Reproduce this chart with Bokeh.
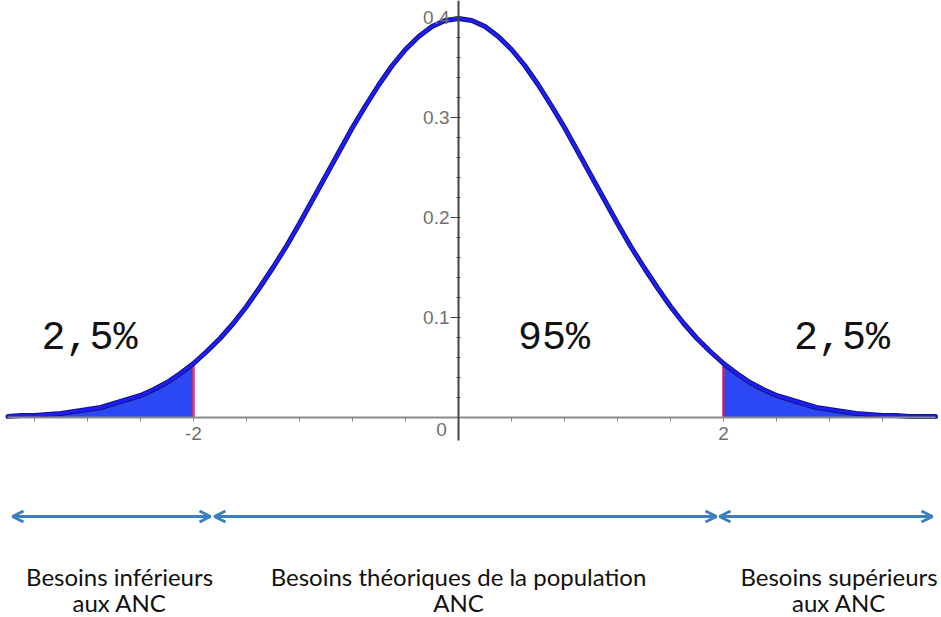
from bokeh.plotting import figure
from bokeh.models import FixedTicker, Arrow, OpenHead
from bokeh.core.properties import value
from bokeh.embed import file_html
from bokeh.resources import INLINE

# ---- data ----
x_vals = [round(-3.4 + 0.1 * i, 1) for i in range(71)]
density = [0.001, 0.002, 0.002, 0.003, 0.004, 0.006, 0.008, 0.010, 0.014, 0.018,
           0.022, 0.028, 0.035, 0.044, 0.054, 0.066, 0.079, 0.094, 0.111, 0.130,
           0.150, 0.171, 0.194, 0.218, 0.242, 0.266, 0.290, 0.312, 0.333, 0.352,
           0.368, 0.381, 0.391, 0.397,
           0.399,
           0.397, 0.391, 0.381, 0.368, 0.352, 0.333, 0.312, 0.290, 0.266, 0.242,
           0.218, 0.194, 0.171, 0.150, 0.130, 0.111, 0.094, 0.079, 0.066, 0.054,
           0.044, 0.035, 0.028, 0.022, 0.018, 0.014, 0.010, 0.008, 0.006, 0.004,
           0.003, 0.002, 0.002, 0.001, 0.001, 0.001]
cut_low, cut_high = -2, 2
x_ticks = [-2, 2]
x_tick_labels = {-2: "-2", 2: "2"}
x_minor = [-3.2, -2.8, -2.4, -1.6, -1.2, -0.8, -0.4, 0.4, 0.8, 1.2, 1.6, 2.4, 2.8, 3.2]
y_ticks = [0.1, 0.2, 0.3, 0.4]
y_minor = [round(0.02 * i, 2) for i in range(1, 21)]
origin_label = ["0"]
pct_labels = ["2,5%", "95%", "2,5%"]
group_line1 = ["Besoins inférieurs", "Besoins théoriques de la population", "Besoins supérieurs"]
group_line2 = ["aux ANC", "ANC", "aux ANC"]

# ---- layout positions ----
pct_x = [-2.785, 0.721, 2.894]
pct_y = [0.079, 0.079, 0.079]
arrow_spans = [(-3.366, -1.872), (-1.842, 1.947), (1.970, 3.577)]
arrow_y = -0.099
group_x = [-2.558, 0.0, 2.872]
line1_y = [-0.159, -0.159, -0.159]
line2_y = [-0.185, -0.185, -0.185]

p = figure(width=941, height=617, x_range=(-3.4566, 3.6453), y_range=(-0.200, 0.417),
           output_backend="svg", toolbar_location=None, min_border=0,
           outline_line_color=None)
p.grid.visible = False

# axes through the origin
p.xaxis.fixed_location = 0
p.yaxis.fixed_location = 0
p.xaxis.ticker = FixedTicker(ticks=x_ticks, minor_ticks=x_minor)
p.xaxis.major_label_overrides = x_tick_labels
p.yaxis.ticker = FixedTicker(ticks=y_ticks, minor_ticks=y_minor)
p.xaxis.bounds = (-3.4, 3.6)
p.yaxis.bounds = (-0.023, 0.417)
for ax in (p.xaxis, p.yaxis):
    ax.major_label_text_font = "Liberation Sans"
    ax.major_label_text_font_size = "19px"
    ax.major_label_text_color = "#707070"
p.xaxis.axis_line_color = "#8a8a8a"
p.xaxis.axis_line_width = 2
p.xaxis.major_tick_line_color = "#8a8a8a"
p.xaxis.minor_tick_line_color = "#8a8a8a"
p.xaxis.major_tick_out = 4
p.xaxis.major_tick_in = 0
p.xaxis.minor_tick_out = 4
p.xaxis.minor_tick_in = 0
p.xaxis.major_label_standoff = 5
p.yaxis.axis_line_color = "#444444"
p.yaxis.axis_line_width = 2
p.yaxis.major_tick_line_color = "#444444"
p.yaxis.minor_tick_line_color = "#444444"
p.yaxis.major_tick_out = 8
p.yaxis.major_tick_in = 0
p.yaxis.minor_tick_out = 2
p.yaxis.minor_tick_in = 2
p.yaxis.major_label_standoff = 1

# origin label
p.text(x=[0], y=[0], text=origin_label, x_offset=-17, y_offset=12, text_align="center",
       text_baseline="middle", text_font=value("Liberation Sans"),
       text_font_size="19px", text_color="#707070")

# shaded tails
lo = [(x, y) for x, y in zip(x_vals, density) if x <= cut_low]
hi = [(x, y) for x, y in zip(x_vals, density) if x >= cut_high]
for part in (lo, hi):
    p.varea(x=[a for a, _ in part], y1=[0] * len(part), y2=[b for _, b in part],
            fill_color="#2b48f4")

# cut lines
d_lo = density[x_vals.index(cut_low)]
d_hi = density[x_vals.index(cut_high)]
p.segment(x0=[cut_low], y0=[0], x1=[cut_low], y1=[d_lo], line_color="#e8336b", line_width=2.5)
p.segment(x0=[cut_high], y0=[0], x1=[cut_high], y1=[d_hi], line_color="#b02a7a", line_width=2.5)

# curve
p.line(x_vals, density, line_color="#14146e", line_width=5, line_cap="round")
p.line(x_vals, density, line_color="#1c1cff", line_width=3, line_cap="round")

# percentages
p.text(x=pct_x, y=pct_y, text=pct_labels, text_align="center", text_baseline="middle",
       text_font=value("Liberation Mono"), text_font_size="40px", text_color="#111111")

# arrows
for (a, b) in arrow_spans:
    p.add_layout(Arrow(x_start=a, y_start=arrow_y, x_end=b, y_end=arrow_y,
                       line_color="#3d7dc2", line_width=3,
                       start=OpenHead(size=11, line_width=3, line_color="#3d7dc2"),
                       end=OpenHead(size=11, line_width=3, line_color="#3d7dc2")))

# group labels (two lines each)
for ys, labels in ((line1_y, group_line1), (line2_y, group_line2)):
    p.text(x=group_x, y=ys, text=labels, text_align="center", text_baseline="middle",
           text_font=value("Lato"), text_font_size="24px", text_color="#111111")

open("out.html", "w").write(file_html(p, INLINE))
